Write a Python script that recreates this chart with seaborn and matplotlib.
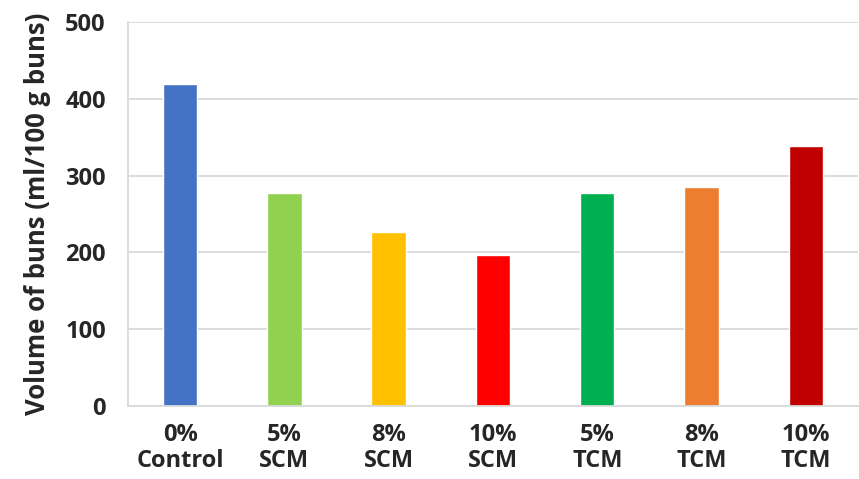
import pandas as pd
import matplotlib
matplotlib.use("Agg")
import matplotlib.pyplot as plt
import seaborn as sns

CATEGORIES = ["0%\nControl", "5%\nSCM", "8%\nSCM", "10%\nSCM", "5%\nTCM", "8%\nTCM", "10%\nTCM"]
VOLUMES = [419, 278, 227, 197, 277, 285, 338]
COLORS = ["#4472C4", "#92D050", "#FFC000", "#FF0000", "#00B050", "#ED7D31", "#C00000"]
Y_TICKS = [0, 100, 200, 300, 400, 500]

df = pd.DataFrame({"Sample": CATEGORIES, "Volume": VOLUMES})

sns.set_theme(style="white")
plt.rcParams['font.family'] = ['Open Sans', 'DejaVu Sans']

fig = plt.figure(figsize=(8.59, 4.79), dpi=100)
ax = fig.add_axes([0.149, 0.1524, 0.8498, 0.8016])

sns.barplot(data=df, x="Sample", y="Volume", hue="Sample", palette=COLORS,
            width=0.33, legend=False, saturation=1, ax=ax)

ax.set_ylim(0, 500)
ax.set_yticks(Y_TICKS)
ax.set_xlim(-0.5, len(CATEGORIES) - 0.5)
ax.yaxis.grid(True, color="#d9d9d9", linewidth=1.3)
ax.set_axisbelow(True)
for side in ["top", "right"]:
    ax.spines[side].set_visible(False)
ax.spines["left"].set_color("#d9d9d9")
ax.spines["left"].set_linewidth(1.3)
ax.spines["bottom"].set_color("#d9d9d9")
ax.spines["bottom"].set_linewidth(1.3)

ax.tick_params(axis="both", length=0, labelsize=17)
ax.tick_params(axis="y", pad=16)
ax.tick_params(axis="x", pad=12)
for lab in ax.get_xticklabels() + ax.get_yticklabels():
    lab.set_fontweight("bold")
    lab.set_linespacing(1.15)

ax.set_xlabel("")
ax.set_ylabel("Volume of buns (ml/100 g buns)", fontsize=18.5, fontweight="bold", labelpad=10)

fig.savefig("out.png", dpi=100)
